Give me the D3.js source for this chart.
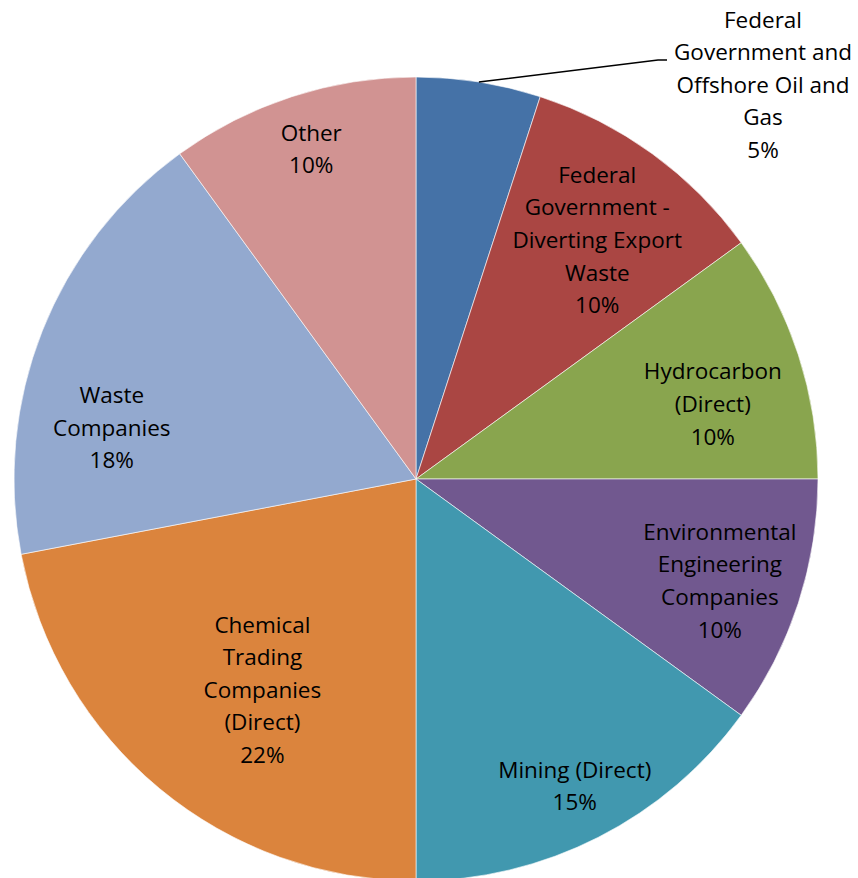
<!DOCTYPE html>
<html>
<head>
<script src="https://d3js.org/d3.v7.min.js"></script>
<style>
  body { margin: 0; background: #fff; }
  .lbl { font-family: "Open Sans", sans-serif; font-size: 22.5px; fill: #000; }
</style>
</head>
<body>
<svg id="chart" width="858" height="878"></svg>
<script>
// data, clockwise from 12 o'clock
var categories = [
  "Federal Government and Offshore Oil and Gas",
  "Federal Government - Diverting Export Waste",
  "Hydrocarbon (Direct)",
  "Environmental Engineering Companies",
  "Mining (Direct)",
  "Chemical Trading Companies (Direct)",
  "Waste Companies",
  "Other"
];
var shares = [5, 10, 10, 10, 15, 22, 18, 10];

// how each label wraps, like Excel did it
var labelLines = [
  ["Federal", "Government and", "Offshore Oil and", "Gas"],
  ["Federal", "Government -", "Diverting Export", "Waste"],
  ["Hydrocarbon", "(Direct)"],
  ["Environmental", "Engineering", "Companies"],
  ["Mining (Direct)"],
  ["Chemical", "Trading", "Companies", "(Direct)"],
  ["Waste", "Companies"],
  ["Other"]
];

var colors = ["#4572A7", "#AA4643", "#89A54E", "#71588F", "#4198AF", "#DB843D", "#93A9CF", "#D19392"];
// nudges from the centroid so labels land where Excel put them
var nudges = [[0, 0], [-1, 12], [2, 21], [9, 6], [18, 31], [44, -28], [-16, 63], [-9, -35]];

var svg = d3.select("#chart");
var cx = 416, cy = 479, r = 402;
var lineH = 32.6;

var pie = d3.pie().sort(null).value(function(d) { return d; });
var arcs = pie(shares);

var arc = d3.arc().innerRadius(0).outerRadius(r);
var labelArc = d3.arc().innerRadius(310).outerRadius(310);

var g = svg.append("g").attr("transform", "translate(" + cx + "," + cy + ")");

g.selectAll("path.slice")
  .data(arcs)
  .enter().append("path")
  .attr("class", "slice")
  .attr("d", arc)
  .attr("fill", function(d, i) { return colors[i]; })
  .attr("stroke", "#fff")
  .attr("stroke-width", 0.6);

// labels
arcs.forEach(function(d, i) {
  var lines = labelLines[i].concat([shares[i] + "%"]);
  var x, y;
  if (i == 0) {
    // outside label with a leader line
    var mid = (d.startAngle + d.endAngle) / 2;
    var p0 = [Math.sin(mid) * r, -Math.cos(mid) * r];
    var p1 = [242, -419];
    var p2 = [251, -419];
    g.append("polyline")
      .attr("points", [p0, p1, p2].map(function(p) { return p.join(","); }).join(" "))
      .attr("fill", "none")
      .attr("stroke", "#000")
      .attr("stroke-width", 1.5);
    x = 347; y = -394;
  } else {
    var c = labelArc.centroid(d);
    x = c[0] + nudges[i][0];
    y = c[1] + nudges[i][1];
  }
  var top = y - (lines.length - 1) * lineH / 2;
  var t = g.append("text")
    .attr("class", "lbl")
    .attr("text-anchor", "middle");
  lines.forEach(function(s, k) {
    t.append("tspan")
      .attr("x", x)
      .attr("y", top + k * lineH)
      .attr("dy", "0.35em")
      .text(s);
  });
});
</script>
</body>
</html>
